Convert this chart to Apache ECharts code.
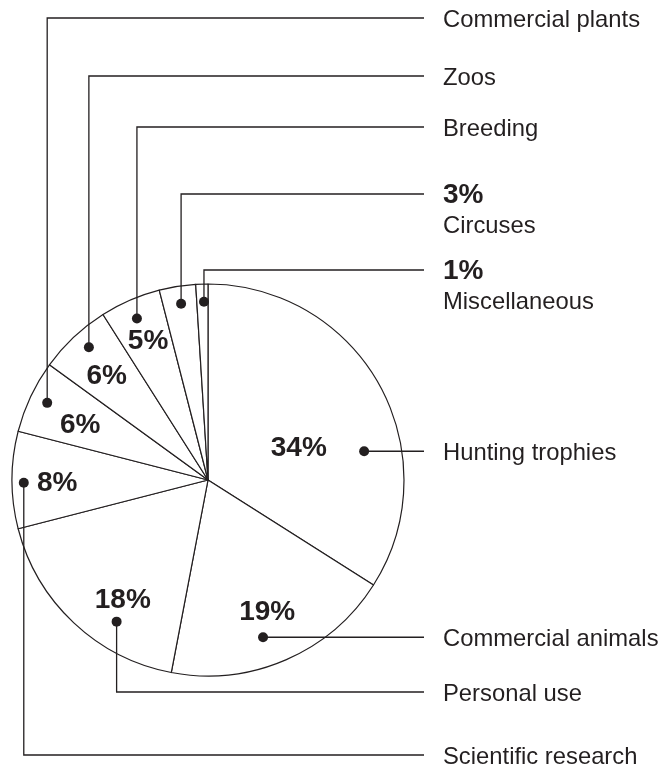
<!DOCTYPE html>
<html>
<head>
<meta charset="utf-8">
<script src="https://cdn.jsdelivr.net/npm/echarts@6/dist/echarts.min.js"></script>
<style>
	html,body{margin:0;padding:0;background:#fff;}
	#chart{width:661px;height:766px;}
</style>
</head>
<body>
<div id="chart"></div>
<script>
	// slices, clockwise from 12 o'clock
	var categories=['Hunting trophies','Commercial animals','Personal use','Scientific research','Commercial plants','Zoos','Breeding','Circuses','Miscellaneous']
	var shares=[34,19,18,8,6,6,5,3,1]
	// percentage shown next to the name instead of inside the slice
	var pctOutside=[false,false,false,false,false,false,false,true,true]

	// layout only: [fraction of slice angle, fraction of radius]
	var pctAt=[[0.58,0.49],[0.49,0.74],[0.38,0.75],[0.46,0.77],[0.41,0.71],[0.45,0.74],[0.5,0.77],null,null]
	var dotAt=[[0.65,0.81],[0.56,0.85],[0.34,0.86],[0.47,0.94],[0.52,0.91],[0.56,0.91],[0.48,0.9],[0.53,0.91],[0.64,0.91]]
	// y of the horizontal part of each leader (null = straight from the dot)
	var leaderY=[null,null,692,755,18,76,127,194,270]

	var CX=208,CY=480,R=196
	var LINE_END=424,TEXT_X=443
	var INK='#231f20'
	var FONT='"Liberation Sans", Arial, Helvetica, sans-serif'

	var total=shares.reduce(function(a,b){return a+b},0)
	var startDeg=[]
	var acc=0
	for(var k=0;k<shares.length;k++){
		startDeg.push(acc/total*360)
		acc+=shares[k]
	}

	function polarPoint(i,af,rf){
		var a=(startDeg[i]+af*shares[i]/total*360)*Math.PI/180
		return [CX+R*rf*Math.sin(a),CY-R*rf*Math.cos(a)]
	}

	function renderLeader(params,api){
		var i=params.dataIndex
		var p=polarPoint(i,dotAt[i][0],dotAt[i][1])
		var ly=leaderY[i]==null?p[1]:leaderY[i]
		var children=[
			{type:'polyline',shape:{points:[p,[p[0],ly],[LINE_END,ly]]},style:{stroke:INK,lineWidth:1.3,fill:null}},
			{type:'circle',shape:{cx:p[0],cy:p[1],r:5}, style:{fill:INK}}
		]
		if(pctOutside[i]){
			children.push({type:'text',style:{text:shares[i]+'%',x:TEXT_X,y:ly+1,fill:INK,font:'bold 28px '+FONT,align:'left',verticalAlign:'middle'}})
			children.push({type:'text',style:{text:categories[i],x:TEXT_X,y:ly+32,fill:INK,font:'23.8px '+FONT,align:'left',verticalAlign:'middle'}})
		}else{
			children.push({type:'text',style:{text:categories[i],x:TEXT_X,y:ly+2,fill:INK,font:'23.8px '+FONT,align:'left',verticalAlign:'middle'}})
			var q=polarPoint(i,pctAt[i][0],pctAt[i][1])
			children.push({type:'text',style:{text:shares[i]+'%',x:q[0],y:q[1],fill:INK,font:'bold 28px '+FONT,align:'center',verticalAlign:'middle'}})
		}
		return {type:'group',children:children}
	}

	var chartInstance=echarts.init(document.getElementById('chart'))
	var option={
		backgroundColor:'#fff',
		animation:false,
		series:[
			{
				type:'pie',
				silent:true,
				center:[CX,CY],
				radius:R,
				startAngle:90,
				clockwise:true,
				label:{show:false},
				labelLine:{show:false},
				itemStyle:{color:'#fff',borderColor:INK,borderWidth:1.2},
				data:categories.map(function(c,i){return {name:c,value:shares[i]}})
			},
			{
				type:'custom',
				coordinateSystem:'none',
				silent:true,
				z:5,
				renderItem:renderLeader,
				data:categories.map(function(c,i){return [i]})
			}
		]
	}
	chartInstance.setOption(option)
</script>
</body>
</html>
